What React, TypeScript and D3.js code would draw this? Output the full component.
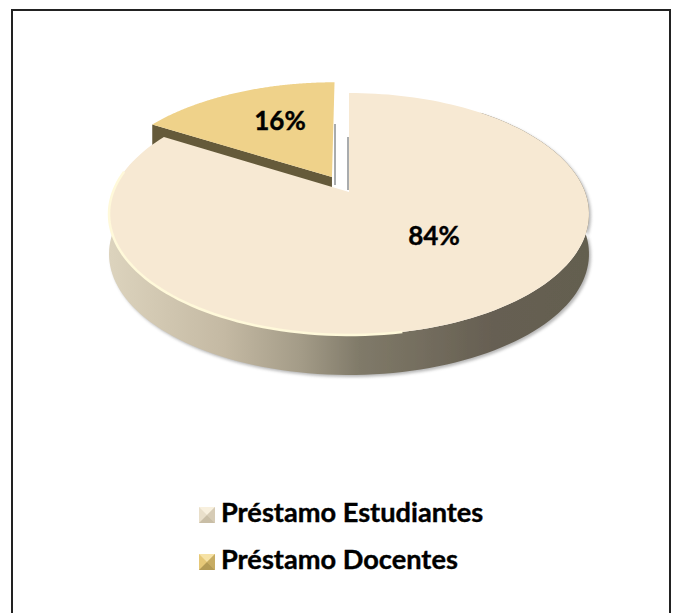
import React from "react";
import * as d3 from "d3";

const categories = ["Préstamo Estudiantes", "Préstamo Docentes"];
const values = [83.6, 16.4];
const labels = ["84%", "16%"];
const topColors = ["#f7e9d3", "#efd28a"];

const W = 676, H = 613;
const cx = 349, cy = 192, rx = 236, ry = 117, k = 0.1818, depth = 40, explode = 0.15;

// perspective projection of the pie's plane (u right, v towards viewer)
const proj = (u: number, v: number): [number, number] => {
  const w = 1 - k * v;
  return [cx + (rx * u) / w, cy + (ry * v) / w];
};
const pie = d3.pie<number>().sort(null).startAngle(0).endAngle(2 * Math.PI);
const arcs = pie(values);
const line = d3.line();

// points of slice face; slices run clockwise from 12 o'clock; second ends at 360°
const arcPts = (a0: number, a1: number, ox: number, oy: number) => {
  const n = 160;
  return d3.range(n + 1).map((i) => {
    const a = a0 + ((a1 - a0) * i) / n;
    return proj(ox + Math.sin(a), oy - Math.cos(a));
  });
};
const shift = (pts: [number, number][], dy: number) =>
  pts.map(([x, y]) => [x, y + dy] as [number, number]);

const a = arcs[0], b = arcs[1];
const mid = (b.startAngle + b.endAngle) / 2;
const ox = explode * Math.sin(mid), oy = -explode * Math.cos(mid);

const mainRim = arcPts(a.startAngle, a.endAngle, 0, 0);
const mainFace = [proj(0, 0), ...mainRim];
const smallRim = arcPts(b.startAngle, b.endAngle, ox, oy);
const smallApex = proj(ox, oy);
const smallFace = [smallApex, ...smallRim];

// visible outer wall of main slice: from the right extreme round the front to the left
const wallTop = mainRim.filter((_, i) => i > 20 && i < 150);
const wall = [...wallTop, ...shift(wallTop, depth).reverse()];
const smallCutWall = [smallRim[0], smallApex, ...shift([smallApex, smallRim[0]], 34)];

const Marker = ({ x, y, c0, c1, c2 }: { x: number; y: number; c0: string; c1: string; c2: string }) => {
  const s = 16;
  const c: [number, number] = [x + s / 2, y + s / 2];
  return (
    <g>
      <rect x={x} y={y} width={s} height={s} fill={c0} />
      <path d={line([[x, y], c, [x + s, y]])!} fill={c1} />
      <path d={line([[x, y + s], c, [x + s, y + s]])!} fill={c2} />
      <path d={line([[x + s, y], c, [x + s, y + s]])!} fill={c2} opacity={0.6} />
    </g>
  );
};

export default function App() {
  const lab0 = [434, 235];
  const lab1 = [280, 120];
  return (
    <svg width={W} height={H} style={{ position: "fixed", left: 0, top: 0, background: "#fff" }}>
      <defs>
        <linearGradient id="wall" gradientUnits="userSpaceOnUse" x1={110} x2={589} y1={0} y2={0}>
          <stop offset="0" stopColor="#dcd3bd" />
          <stop offset="0.24" stopColor="#c4b9a3" />
          <stop offset="0.4" stopColor="#a39b87" />
          <stop offset="0.52" stopColor="#807a69" />
          <stop offset="0.8" stopColor="#665f52" />
          <stop offset="1" stopColor="#645e50" />
        </linearGradient>
        <filter id="soft" x="-5%" y="-5%" width="110%" height="110%"><feGaussianBlur stdDeviation="0.6" /></filter>
        <filter id="shadow" x="-5%" y="-5%" width="110%" height="115%"><feGaussianBlur stdDeviation="1.5" /></filter>
      </defs>
      {/* frame: its bottom edge falls below the picture */}
      <rect x={12} y={10} width={658} height={620} fill="#fff" stroke="#222" strokeWidth={2} />

      {/* shadows behind the pie */}
      <path d={line(wall)! + "Z"} fill="#9a9a9a" opacity={0.7} transform="translate(2,2)" filter="url(#shadow)" />
      <path d={line([[348, 137], [348, 190]])!} stroke="#a9acae" strokeWidth={2} fill="none" />
      <path d={line([[335, 124], [335, 185]])!} stroke="#a9acae" strokeWidth={2} fill="none" />

      {/* exploded slice */}
      <path d={line(smallCutWall)! + "Z"} fill="#655a3a" />
      <path d={line(smallFace)! + "Z"} fill={topColors[1]} filter="url(#soft)" />

      {/* main slice */}
      <path d={line(wall)! + "Z"} fill="url(#wall)" filter="url(#soft)" />
      <path d={line(mainFace)! + "Z"} fill={topColors[0]} filter="url(#soft)" />
      <path d={line(mainRim.slice(90, 150))!} fill="none" stroke="#fff9da" strokeWidth={2.5} filter="url(#soft)" />

      <g fontFamily="Lato, sans-serif" fontWeight={700} fill="#000" stroke="#000" strokeWidth={0.4}>
        <text x={lab0[0]} y={lab0[1] + 10} fontSize={26} textAnchor="middle">{labels[0]}</text>
        <text x={lab1[0]} y={lab1[1] + 10} fontSize={26} textAnchor="middle">{labels[1]}</text>
        <text x={221} y={522} fontSize={27.2}>{categories[0]}</text>
        <text x={221} y={569} fontSize={27.2}>{categories[1]}</text>
      </g>
      <Marker x={199} y={507} c0="#e9dfca" c1="#f8f0de" c2="#c9bea6" />
      <Marker x={199} y={554} c0="#e6c878" c1="#f6e2a6" c2="#b39a55" />
    </svg>
  );
}
